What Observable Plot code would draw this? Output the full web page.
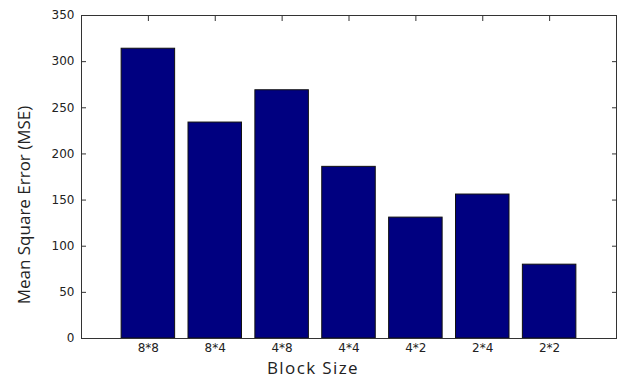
<!DOCTYPE html>
<html>
<head>
<meta charset="utf-8">
<script src="https://cdn.jsdelivr.net/npm/d3@7"></script>
<script src="https://cdn.jsdelivr.net/npm/@observablehq/plot@0.6"></script>
<style>
  html, body { margin: 0; padding: 0; background: #fff; }
  #chart { width: 619px; height: 381px; }
</style>
</head>
<body>
<div id="chart"></div>
<script>
const categories = ["8*8", "8*4", "4*8", "4*4", "4*2", "2*4", "2*2"];
const mseValues = [314, 234, 269, 186, 131, 156, 80];
const yTicks = [0, 50, 100, 150, 200, 250, 300, 350];
const xTitle = "Block Size";
const yTitle = "Mean Square Error (MSE)";

const data = categories.map((c, i) => ({block: c, mse: mseValues[i]}));

const chart = Plot.plot({
  width: 619,
  height: 381,
  marginLeft: 81,
  marginRight: 3,
  marginTop: 15,
  marginBottom: 43,
  style: {background: "#fff", fontFamily: "DejaVu Sans, sans-serif", fontSize: "12px", color: "#222"},
  x: {domain: categories, paddingInner: 0.2, paddingOuter: 0.6, round: false, label: null},
  y: {domain: [0, 350], label: null},
  marks: [
    Plot.barY(data, {x: "block", y: "mse", fill: "#000080", stroke: "#111", strokeWidth: 1}),
    Plot.frame({stroke: "#333", strokeWidth: 1}),
    Plot.axisY({ticks: yTicks, anchor: "left", tickSize: 0, tickPadding: 7, label: null, fontSize: 12}),
    Plot.axisY({ticks: yTicks, anchor: "left", tickSize: -5, text: null, label: null, stroke: "#333"}),
    Plot.axisY({ticks: yTicks, anchor: "right", tickSize: -5, text: null, label: null, stroke: "#333"}),
    Plot.axisX({anchor: "bottom", tickSize: 0, tickPadding: 5, label: null, fontSize: 12}),
    Plot.axisX({anchor: "top", tickSize: -5, text: null, label: null, stroke: "#333"}),
    Plot.text([xTitle], {frameAnchor: "bottom", textAnchor: "middle", dx: -36, dy: 35, fontSize: 17, fontFamily: "Open Sans, sans-serif", fill: "#222", className: "xtitle"}),
    Plot.text([yTitle], {frameAnchor: "left", textAnchor: "middle", rotate: -90, dx: -57, dy: 28, fontSize: 17, fontFamily: "Open Sans, sans-serif", fill: "#222"})
  ]
});
d3.select(chart).selectAll(".xtitle text").attr("letter-spacing", "1.4px");
document.getElementById("chart").appendChild(chart);
</script>
</body>
</html>
